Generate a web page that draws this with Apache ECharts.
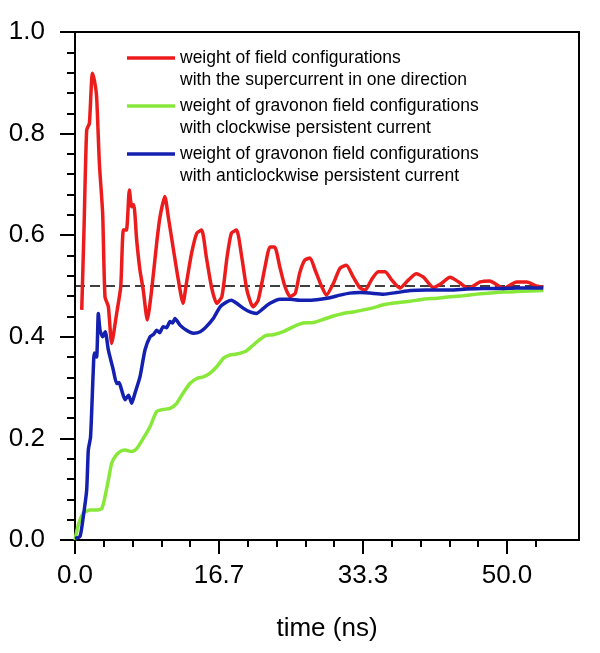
<!DOCTYPE html>
<html>
<head>
<meta charset="utf-8">
<script src="https://cdn.jsdelivr.net/npm/echarts@6/dist/echarts.min.js"></script>
<style>
  html, body { margin: 0; padding: 0; width: 100%; height: 100%; background: #fff; }
  #chart { width: 600px; height: 653px; }
</style>
</head>
<body>
<div id="chart"></div>
<script>
// series names (legend text, two lines each)
var seriesNames = [
  'weight of field configurations\nwith the supercurrent in one direction',
  'weight of gravonon field configurations\nwith clockwise persistent current',
  'weight of gravonon field configurations\nwith anticlockwise persistent current'
];

// [time (ns), weight]
var fieldWeight = [
  [0.78,0.453],[1.04,0.61],[1.35,0.807],[1.66,0.82],[1.85,0.88],[2.0,0.919],[2.24,0.905],
  [2.5,0.873],[2.82,0.742],[3.2,0.643],[3.47,0.479],[3.86,0.459],[4.24,0.387],[4.82,0.446],
  [5.29,0.498],[5.6,0.61],[5.95,0.61],[6.29,0.689],[6.56,0.656],[6.8,0.66],[7.14,0.59],
  [7.52,0.531],[7.9,0.492],[8.37,0.433],[8.87,0.492],[9.45,0.584],[9.84,0.636],[10.4,0.676],
  [10.8,0.636],[11.4,0.571],[11.96,0.512],[12.5,0.466],[12.9,0.506],[13.5,0.565],[14.1,0.604],
  [14.66,0.61],[15.2,0.557],[15.8,0.498],[16.4,0.466],[17.0,0.479],[17.6,0.557],[18.1,0.604],
  [18.7,0.61],[19.3,0.557],[19.9,0.492],[20.6,0.459],[21.2,0.472],[22.0,0.538],[22.57,0.577],
  [23.1,0.577],[23.7,0.538],[24.3,0.499],[24.9,0.479],[25.5,0.486],[26.0,0.525],[26.6,0.551],
  [27.2,0.555],[27.8,0.531],[28.55,0.499],[29.1,0.482],[29.9,0.505],[30.67,0.535],[31.4,0.541],
  [32.2,0.518],[33.0,0.496],[33.6,0.492],[34.3,0.512],[35.1,0.528],[35.9,0.528],[36.65,0.512],
  [37.6,0.496],[38.6,0.512],[39.5,0.524],[40.3,0.518],[41.5,0.497],[42.4,0.505],[43.4,0.517],
  [44.4,0.508],[45.5,0.495],[46.9,0.508],[48.0,0.51],[49.6,0.495],[51.1,0.508],[52.3,0.508],
  [53.4,0.5],[54.2,0.497]
];

var clockwiseWeight = [
  [0,0.0],[0.39,0.03],[0.96,0.053],[1.74,0.059],[2.5,0.059],[3.1,0.062],[3.47,0.085],
  [3.86,0.118],[4.24,0.151],[4.63,0.164],[5.2,0.174],[5.79,0.177],[6.56,0.174],[7.14,0.18],
  [7.9,0.2],[8.68,0.223],[9.45,0.253],[10.2,0.257],[11.0,0.259],[11.77,0.269],[12.5,0.289],
  [13.3,0.308],[14.1,0.318],[14.85,0.321],[15.6,0.328],[16.4,0.341],[17.2,0.358],[17.9,0.364],
  [18.7,0.366],[19.7,0.371],[20.45,0.381],[21.2,0.392],[22.0,0.402],[22.95,0.404],[24.1,0.41],
  [25.3,0.42],[26.4,0.427],[27.6,0.428],[28.7,0.434],[29.9,0.441],[31.05,0.446],[32.2,0.449],
  [33.4,0.453],[34.5,0.457],[35.7,0.463],[37.2,0.467],[38.8,0.47],[40.3,0.474],[41.9,0.476],
  [43.4,0.479],[44.9,0.481],[46.5,0.484],[48.0,0.486],[49.6,0.488],[51.1,0.489],[52.7,0.49],
  [54.2,0.491]
];

var anticlockwiseWeight = [
  [0,0.003],[0.58,0.007],[0.96,0.046],[1.35,0.098],[1.54,0.177],[1.8,0.203],[2.1,0.328],
  [2.24,0.368],[2.5,0.36],[2.7,0.446],[2.9,0.413],[3.2,0.4],[3.5,0.41],[3.86,0.374],
  [4.43,0.335],[4.82,0.308],[5.1,0.31],[5.4,0.295],[5.79,0.276],[6.2,0.285],[6.56,0.269],
  [6.94,0.289],[7.52,0.321],[8.1,0.374],[8.68,0.4],[9.1,0.405],[9.45,0.413],[9.8,0.408],
  [10.2,0.42],[10.6,0.418],[11.0,0.43],[11.3,0.427],[11.57,0.436],[12.15,0.423],[12.9,0.413],
  [13.7,0.407],[14.5,0.41],[15.2,0.42],[16.0,0.436],[16.8,0.459],[17.6,0.469],[18.1,0.472],
  [18.7,0.466],[19.5,0.456],[20.25,0.449],[21.0,0.446],[21.8,0.456],[22.57,0.466],[23.7,0.474],
  [24.9,0.474],[26.0,0.472],[27.2,0.472],[28.4,0.474],[29.5,0.477],[30.67,0.482],[31.8,0.486],
  [33.0,0.487],[34.1,0.486],[35.7,0.484],[37.2,0.487],[38.8,0.491],[40.7,0.492],[43.4,0.492],
  [45.3,0.494],[47.3,0.495],[49.2,0.495],[51.1,0.496],[53.0,0.496],[54.2,0.496]
];

// reference level
var halfLine = [[0,0.5],[54.2,0.5]];

// x axis ticks
var xMax = 58.3333;
var xMajorTicks = [0, 16.6667, 33.3333, 50];
var xMinorTicks = [];
for (var i = 1; i < 17; i++) { if (i % 5 !== 0) xMinorTicks.push(i * 3.33333); }

var colors = ['#ec1c1c', '#88e83a', '#1420b0'];
var font = 'Liberation Sans, Arial, Helvetica, sans-serif';

var chart = echarts.init(document.getElementById('chart'));
chart.setOption({
  animation: false,
  backgroundColor: '#fff',
  grid: {
    left: 75, right: 21, top: 32, bottom: 113,
    show: true, borderColor: '#000', borderWidth: 2, backgroundColor: 'transparent'
  },
  legend: {
    data: seriesNames,
    orient: 'vertical',
    left: 127, top: 25, padding: 0,
    icon: 'rect',
    itemWidth: 48, itemHeight: 3.5,
    itemGap: -18,
    formatter: function (name) { return '\n' + name; },
    textStyle: { fontFamily: font, fontSize: 17.5, color: '#000', lineHeight: 22 }
  },
  xAxis: [{
    type: 'value', min: 0, max: xMax, position: 'bottom',
    name: 'time (ns)', nameLocation: 'middle', nameGap: 76,
    nameTextStyle: { fontFamily: font, fontSize: 26, color: '#000' },
    axisLine: { lineStyle: { color: '#000', width: 2 } },
    axisTick: { customValues: xMajorTicks, length: 14, lineStyle: { color: '#000', width: 2 } },
    axisLabel: {
      customValues: xMajorTicks, margin: 23,
      fontFamily: font, fontSize: 26, color: '#000',
      formatter: function (v) { return v.toFixed(1); }
    },
    splitLine: { show: false }
  }, {
    type: 'value', min: 0, max: xMax, position: 'bottom',
    axisLine: { show: false },
    axisTick: { customValues: xMinorTicks, length: 7, lineStyle: { color: '#000', width: 2 } },
    axisLabel: { show: false },
    splitLine: { show: false }
  }],
  yAxis: {
    type: 'value', min: 0, max: 1, interval: 0.2,
    axisLine: { show: true, lineStyle: { color: '#000', width: 2 } },
    axisTick: { show: true, length: 15, lineStyle: { color: '#000', width: 2 } },
    minorTick: { show: true, splitNumber: 5, length: 8, lineStyle: { color: '#000', width: 2 } },
    axisLabel: {
      margin: 30, fontFamily: font, fontSize: 26, color: '#000',
      formatter: function (v) { return v.toFixed(1); }
    },
    splitLine: { show: false }
  },
  series: [{
    name: 'half', type: 'line', data: halfLine, showSymbol: false, silent: true,
    lineStyle: { color: '#000', width: 1.5, type: [10, 5] }, z: 1
  }, {
    name: seriesNames[0], type: 'line', data: fieldWeight, showSymbol: false, smooth: 0.2,
    color: colors[0], lineStyle: { width: 3.5 }, z: 3
  }, {
    name: seriesNames[1], type: 'line', data: clockwiseWeight, showSymbol: false, smooth: 0.2,
    color: colors[1], lineStyle: { width: 3.5 }, z: 2
  }, {
    name: seriesNames[2], type: 'line', data: anticlockwiseWeight, showSymbol: false, smooth: 0.2,
    color: colors[2], lineStyle: { width: 3.5 }, z: 4
  }]
});
</script>
</body>
</html>
